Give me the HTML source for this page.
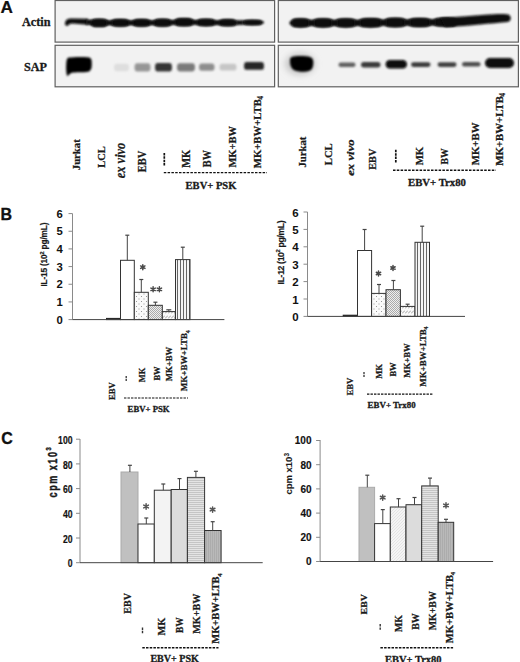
<!DOCTYPE html>
<html><head><meta charset="utf-8"><style>
html,body{margin:0;padding:0;background:#fff;}
body{width:520px;height:662px;overflow:hidden;font-family:"Liberation Sans",sans-serif;}
svg{display:block;}
</style></head><body>
<svg width="520" height="662" viewBox="0 0 520 662">
<defs>
<filter id="bl7" x="-30%" y="-60%" width="160%" height="220%"><feGaussianBlur stdDeviation="0.7"/></filter>
<filter id="bl11" x="-30%" y="-60%" width="160%" height="220%"><feGaussianBlur stdDeviation="1.1"/></filter>
<filter id="bl30" x="-50%" y="-50%" width="200%" height="200%"><feGaussianBlur stdDeviation="3"/></filter>
<filter id="bl8" x="-30%" y="-60%" width="160%" height="220%"><feGaussianBlur stdDeviation="0.8"/></filter>
<filter id="bl9" x="-30%" y="-60%" width="160%" height="220%"><feGaussianBlur stdDeviation="0.9"/></filter>
<filter id="bl10" x="-30%" y="-60%" width="160%" height="220%"><feGaussianBlur stdDeviation="1.0"/></filter>
<pattern id="dots" width="5" height="5" patternUnits="userSpaceOnUse"><rect width="5" height="5" fill="#fbfbfb"/><rect x="1" y="1" width="1" height="1" fill="#999"/><rect x="3.5" y="3.5" width="1" height="1" fill="#999"/></pattern>
<pattern id="dense" width="2" height="2" patternUnits="userSpaceOnUse"><rect width="2" height="2" fill="#eeeeee"/><rect x="0" y="0" width="1" height="1" fill="#aaa"/><rect x="1" y="1" width="1" height="1" fill="#aaa"/></pattern>
<pattern id="diag" width="3" height="5" patternUnits="userSpaceOnUse"><rect width="3" height="5" fill="#fafafa"/><path d="M0,3.5 L3,0.5" stroke="#888" stroke-width="0.8"/></pattern>
<pattern id="vlines" width="3" height="3" patternUnits="userSpaceOnUse"><rect width="3" height="3" fill="#f4f4f4"/><rect x="0" y="0" width="0.9" height="3" fill="#555"/></pattern>
<pattern id="hlines" width="2" height="2" patternUnits="userSpaceOnUse"><rect width="2" height="2" fill="#e4e4e4"/><rect x="0" y="0" width="2" height="0.7" fill="#b8b8b8"/></pattern>
<pattern id="gvl" width="2" height="2" patternUnits="userSpaceOnUse"><rect width="2" height="2" fill="#b9b9b9"/><rect x="0" y="0" width="0.7" height="2" fill="#a6a6a6"/></pattern>
<pattern id="ldiag" width="3" height="3" patternUnits="userSpaceOnUse"><rect width="3" height="3" fill="#f4f4f4"/><path d="M0,3 L3,0" stroke="#d8d8d8" stroke-width="0.6"/></pattern>
</defs>
<text x="0.4" y="13.4" font-family="'Liberation Sans', sans-serif" font-size="17.2" font-weight="bold" fill="#111" text-anchor="start" stroke="#111" stroke-width="0.2">A</text>
<text x="22" y="25.5" font-family="'Liberation Serif', serif" font-size="12.5" font-weight="bold" fill="#1a1a1a" text-anchor="start" stroke="#1a1a1a" stroke-width="0.3" textLength="28.5" lengthAdjust="spacingAndGlyphs">Actin</text>
<text x="24" y="71.4" font-family="'Liberation Serif', serif" font-size="12.5" font-weight="bold" fill="#1a1a1a" text-anchor="start" stroke="#1a1a1a" stroke-width="0.3" textLength="23" lengthAdjust="spacingAndGlyphs">SAP</text>
<rect x="55.1" y="0.5" width="219.50000000000003" height="41.6" fill="#f2f2f2" stroke="#606060" stroke-width="1.2"/>
<rect x="55.1" y="45.3" width="219.50000000000003" height="41.5" fill="#f2f2f2" stroke="#606060" stroke-width="1.2"/>
<rect x="278.3" y="0.5" width="240.09999999999997" height="41.6" fill="#f2f2f2" stroke="#606060" stroke-width="1.2"/>
<rect x="278.3" y="45.3" width="240.09999999999997" height="41.5" fill="#f2f2f2" stroke="#606060" stroke-width="1.2"/>
<path d="M65,25 C64.8,21 66.5,18.8 70.5,18.6 L88,18.8 L88,24.8 L72,23.4 C70,23.4 68.5,24.6 67.8,26 Z" fill="#0b0b0b" filter="url(#bl8)"/>
<ellipse cx="99.25" cy="22.799999999999997" rx="10.45" ry="3.9999999999999996" fill="#0b0b0b" filter="url(#bl8)"/>
<rect x="91.5" y="19.2" width="15.5" height="7.199999999999999" rx="3" fill="#0b0b0b" filter="url(#bl8)"/>
<ellipse cx="120.25" cy="22.799999999999997" rx="10.95" ry="3.8000000000000003" fill="#0b0b0b" filter="url(#bl8)"/>
<rect x="112.0" y="19.4" width="16.5" height="6.800000000000001" rx="3" fill="#0b0b0b" filter="url(#bl8)"/>
<ellipse cx="141.5" cy="22.799999999999997" rx="10.7" ry="3.8000000000000003" fill="#0b0b0b" filter="url(#bl8)"/>
<rect x="133.5" y="19.4" width="16" height="6.800000000000001" rx="3" fill="#0b0b0b" filter="url(#bl8)"/>
<ellipse cx="162.5" cy="22.7" rx="10.7" ry="3.9" fill="#0b0b0b" filter="url(#bl8)"/>
<rect x="154.5" y="19.2" width="16" height="7.0" rx="3" fill="#0b0b0b" filter="url(#bl8)"/>
<ellipse cx="184.0" cy="22.200000000000003" rx="11.2" ry="3.9999999999999996" fill="#0b0b0b" filter="url(#bl8)"/>
<rect x="175.5" y="18.6" width="17" height="7.199999999999999" rx="3" fill="#0b0b0b" filter="url(#bl8)"/>
<ellipse cx="206.0" cy="22.5" rx="11.2" ry="3.7000000000000006" fill="#0b0b0b" filter="url(#bl8)"/>
<rect x="197.5" y="19.2" width="17" height="6.600000000000001" rx="3" fill="#0b0b0b" filter="url(#bl8)"/>
<ellipse cx="227.75" cy="22.700000000000003" rx="10.95" ry="3.4999999999999996" fill="#0b0b0b" filter="url(#bl8)"/>
<rect x="219.5" y="19.6" width="16.5" height="6.199999999999999" rx="3" fill="#0b0b0b" filter="url(#bl8)"/>
<ellipse cx="252.5" cy="22.5" rx="11.7" ry="2.7000000000000006" fill="#0b0b0b" filter="url(#bl8)"/>
<rect x="243.5" y="20.2" width="18" height="4.600000000000001" rx="3" fill="#0b0b0b" filter="url(#bl8)"/>
<rect x="106.0" y="20.499999999999996" width="7" height="4.6" fill="#0b0b0b" filter="url(#bl8)"/>
<rect x="127.5" y="20.499999999999996" width="7" height="4.6" fill="#0b0b0b" filter="url(#bl8)"/>
<rect x="148.5" y="20.45" width="7" height="4.6" fill="#0b0b0b" filter="url(#bl8)"/>
<rect x="169.5" y="20.150000000000002" width="7" height="4.6" fill="#0b0b0b" filter="url(#bl8)"/>
<rect x="191.5" y="20.05" width="7" height="4.6" fill="#0b0b0b" filter="url(#bl8)"/>
<rect x="213.5" y="20.3" width="7" height="4.6" fill="#0b0b0b" filter="url(#bl8)"/>
<rect x="236.25" y="20.3" width="7" height="4.6" fill="#0b0b0b" filter="url(#bl8)"/>
<rect x="86" y="19.8" width="6" height="4.8" fill="#0b0b0b" filter="url(#bl8)"/>
<ellipse cx="300.5" cy="22.9" rx="11.2" ry="4.5" fill="#0b0b0b" filter="url(#bl8)"/>
<rect x="292.0" y="18.8" width="17.0" height="8.2" rx="3" fill="#0b0b0b" filter="url(#bl8)"/>
<ellipse cx="323.0" cy="22.9" rx="11.7" ry="4.5" fill="#0b0b0b" filter="url(#bl8)"/>
<rect x="314.0" y="18.8" width="18.0" height="8.2" rx="3" fill="#0b0b0b" filter="url(#bl8)"/>
<ellipse cx="345.75" cy="22.9" rx="11.95" ry="4.5" fill="#0b0b0b" filter="url(#bl8)"/>
<rect x="336.5" y="18.8" width="18.5" height="8.2" rx="3" fill="#0b0b0b" filter="url(#bl8)"/>
<ellipse cx="370.5" cy="22.8" rx="13.2" ry="4.6" fill="#0b0b0b" filter="url(#bl8)"/>
<rect x="360.0" y="18.6" width="21.0" height="8.399999999999999" rx="3" fill="#0b0b0b" filter="url(#bl8)"/>
<ellipse cx="395.25" cy="22.5" rx="12.45" ry="4.700000000000001" fill="#0b0b0b" filter="url(#bl8)"/>
<rect x="385.5" y="18.2" width="19.5" height="8.600000000000001" rx="3" fill="#0b0b0b" filter="url(#bl8)"/>
<ellipse cx="419.75" cy="22.5" rx="12.95" ry="4.500000000000002" fill="#0b0b0b" filter="url(#bl8)"/>
<rect x="409.5" y="18.4" width="20.5" height="8.200000000000003" rx="3" fill="#0b0b0b" filter="url(#bl8)"/>
<ellipse cx="445.25" cy="22.2" rx="13.45" ry="4.4" fill="#0b0b0b" filter="url(#bl8)"/>
<rect x="434.5" y="18.2" width="21.5" height="8.0" rx="3" fill="#0b0b0b" filter="url(#bl8)"/>
<rect x="308.0" y="19.799999999999997" width="7" height="6.2" fill="#0b0b0b" filter="url(#bl8)"/>
<rect x="330.75" y="19.799999999999997" width="7" height="6.2" fill="#0b0b0b" filter="url(#bl8)"/>
<rect x="354.0" y="19.75" width="7" height="6.2" fill="#0b0b0b" filter="url(#bl8)"/>
<rect x="379.75" y="19.549999999999997" width="7" height="6.2" fill="#0b0b0b" filter="url(#bl8)"/>
<rect x="403.75" y="19.4" width="7" height="6.2" fill="#0b0b0b" filter="url(#bl8)"/>
<rect x="428.75" y="19.25" width="7" height="6.2" fill="#0b0b0b" filter="url(#bl8)"/>
<path d="M440,18 C455,17.2 470,16 485,14.7 C495,13.9 503,13.7 507.5,14.3 C511.8,15.2 511.8,21.2 507.5,22 C500,22.8 490,23.5 480,24.6 C470,25.6 458,26.6 445,26.9 Z" fill="#0b0b0b" filter="url(#bl8)"/>
<path d="M68.5,57.6 C72,56.8 84,56.7 88,57.2 C91,57.8 91.6,59 91.7,62 C91.8,66 92,69 89.5,71.2 C86,72.6 78,72 73,72.6 C70,73 68.6,75.4 67.4,76.2 C66.2,74 65.9,68 66.3,63 C66.5,60 67,58.2 68.5,57.6 Z" fill="#040404" filter="url(#bl8)"/>
<rect x="114" y="63.8" width="15" height="7.400000000000006" rx="2.5" ry="3.700000000000003" fill="#dedede" filter="url(#bl11)"/>
<rect x="134.5" y="63.3" width="16.0" height="8.200000000000003" rx="2.5" ry="4.100000000000001" fill="#969696" filter="url(#bl11)"/>
<rect x="155" y="63" width="17" height="8.599999999999994" rx="2.5" ry="4.299999999999997" fill="#363636" filter="url(#bl11)"/>
<rect x="177" y="63.2" width="18" height="8.200000000000003" rx="2.5" ry="4.100000000000001" fill="#7a7a7a" filter="url(#bl11)"/>
<rect x="199" y="63.6" width="15.5" height="7.199999999999996" rx="2.5" ry="3.599999999999998" fill="#8e8e8e" filter="url(#bl11)"/>
<rect x="219.5" y="63.8" width="17.0" height="6.799999999999997" rx="2.5" ry="3.3999999999999986" fill="#c6c6c6" filter="url(#bl11)"/>
<rect x="244" y="62" width="20" height="7.799999999999997" rx="2.5" ry="3.8999999999999986" fill="#262626" filter="url(#bl11)"/>
<ellipse cx="300" cy="64" rx="15" ry="11" fill="#c8c8c8" filter="url(#bl30)"/>
<path d="M290,60 C290,56.8 293,56 300,56 C309,56 313.3,56.8 313.3,62 C313.3,68 312,71.8 304,71.8 C295,71.8 289.6,70 290,60 Z" fill="#040404" filter="url(#bl8)"/>
<rect x="338.5" y="62.6" width="17.0" height="4.399999999999999" rx="2.1999999999999993" ry="2.1999999999999993" fill="#606060" filter="url(#bl10)"/>
<rect x="361" y="62" width="19.5" height="5.400000000000006" rx="2.700000000000003" ry="2.700000000000003" fill="#3a3a3a" filter="url(#bl10)"/>
<rect x="385.6" y="60" width="21.399999999999977" height="8.5" rx="4.25" ry="4.25" fill="#070707" filter="url(#bl10)"/>
<rect x="411" y="62.2" width="19.5" height="4.799999999999997" rx="2.3999999999999986" ry="2.3999999999999986" fill="#3a3a3a" filter="url(#bl10)"/>
<rect x="437.6" y="62.2" width="18.899999999999977" height="4.799999999999997" rx="2.3999999999999986" ry="2.3999999999999986" fill="#404040" filter="url(#bl10)"/>
<rect x="462" y="62" width="18.5" height="4.599999999999994" rx="2.299999999999997" ry="2.299999999999997" fill="#4e4e4e" filter="url(#bl10)"/>
<rect x="485" y="58" width="29" height="10" rx="5.0" ry="5.0" fill="#070707" filter="url(#bl10)"/>
<text x="185.6" y="188.6" font-family="'Liberation Serif', serif" font-size="10.8" font-weight="bold" fill="#1a1a1a" text-anchor="start" stroke="#1a1a1a" stroke-width="0.3" textLength="50.8" lengthAdjust="spacingAndGlyphs">EBV+ PSK</text>
<text x="408" y="186" font-family="'Liberation Serif', serif" font-size="10.8" font-weight="bold" fill="#1a1a1a" text-anchor="start" stroke="#1a1a1a" stroke-width="0.3" textLength="58" lengthAdjust="spacingAndGlyphs">EBV+ Trx80</text>
<line x1="163.8" y1="172.6" x2="267" y2="172.6" stroke="#111" stroke-width="1.4" stroke-dasharray="2.5,1.3"/>
<line x1="393" y1="170.2" x2="496" y2="170.2" stroke="#111" stroke-width="1.4" stroke-dasharray="2.5,1.3"/>
<line x1="164.3" y1="153" x2="164.3" y2="166.1" stroke="#111" stroke-width="1.7" stroke-dasharray="2.5,0.87"/>
<line x1="395.8" y1="149.8" x2="395.8" y2="163.1" stroke="#111" stroke-width="1.7" stroke-dasharray="2.5,0.87"/>
<text x="0.5" y="220.2" font-family="'Liberation Sans', sans-serif" font-size="16" font-weight="bold" fill="#111" text-anchor="start" stroke="#111" stroke-width="0.3">B</text>
<line x1="72.5" y1="213.6" x2="72.5" y2="319.6" stroke="#8a8a8a" stroke-width="1"/>
<line x1="68.5" y1="319.6" x2="72.5" y2="319.6" stroke="#8a8a8a" stroke-width="1"/>
<line x1="68.5" y1="301.93" x2="72.5" y2="301.93" stroke="#8a8a8a" stroke-width="1"/>
<line x1="68.5" y1="284.26" x2="72.5" y2="284.26" stroke="#8a8a8a" stroke-width="1"/>
<line x1="68.5" y1="266.59000000000003" x2="72.5" y2="266.59000000000003" stroke="#8a8a8a" stroke-width="1"/>
<line x1="68.5" y1="248.92000000000002" x2="72.5" y2="248.92000000000002" stroke="#8a8a8a" stroke-width="1"/>
<line x1="68.5" y1="231.25" x2="72.5" y2="231.25" stroke="#8a8a8a" stroke-width="1"/>
<line x1="68.5" y1="213.58" x2="72.5" y2="213.58" stroke="#8a8a8a" stroke-width="1"/>
<text x="62.8" y="323.8" font-family="'Liberation Sans', sans-serif" font-size="11.3" font-weight="bold" fill="#111" text-anchor="end">0</text>
<text x="62.8" y="306.13" font-family="'Liberation Sans', sans-serif" font-size="11.3" font-weight="bold" fill="#111" text-anchor="end">1</text>
<text x="62.8" y="288.46" font-family="'Liberation Sans', sans-serif" font-size="11.3" font-weight="bold" fill="#111" text-anchor="end">2</text>
<text x="62.8" y="270.79" font-family="'Liberation Sans', sans-serif" font-size="11.3" font-weight="bold" fill="#111" text-anchor="end">3</text>
<text x="62.8" y="253.12" font-family="'Liberation Sans', sans-serif" font-size="11.3" font-weight="bold" fill="#111" text-anchor="end">4</text>
<text x="62.8" y="235.45" font-family="'Liberation Sans', sans-serif" font-size="11.3" font-weight="bold" fill="#111" text-anchor="end">5</text>
<text x="62.8" y="217.78" font-family="'Liberation Sans', sans-serif" font-size="11.3" font-weight="bold" fill="#111" text-anchor="end">6</text>
<text transform="translate(47.4,286.6) rotate(-90)" font-family="'Liberation Sans', sans-serif" font-size="8.3" font-weight="bold" fill="#1a1a1a" stroke="#1a1a1a" stroke-width="0.2" textLength="64" lengthAdjust="spacing">IL-15 (10<tspan font-size="5.64" dy="-3.15">2</tspan><tspan dy="3.15"> pg/mL)</tspan></text>
<rect x="106.5" y="318.4" width="13.799999999999997" height="1.2000000000000455" fill="#222" stroke="#222" stroke-width="1"/>
<rect x="120.5" y="260.3" width="13.800000000000011" height="59.30000000000001" fill="#fff" stroke="#333" stroke-width="1"/>
<line x1="127.3" y1="235.2" x2="127.3" y2="260.3" stroke="#444" stroke-width="1"/>
<line x1="125.3" y1="235.2" x2="129.3" y2="235.2" stroke="#444" stroke-width="1.2"/>
<rect x="134.3" y="292.3" width="14.0" height="27.30000000000001" fill="url(#dots)" stroke="#333" stroke-width="1"/>
<line x1="141.3" y1="279.5" x2="141.3" y2="292.3" stroke="#444" stroke-width="1"/>
<line x1="139.3" y1="279.5" x2="143.3" y2="279.5" stroke="#444" stroke-width="1.2"/>
<rect x="148.3" y="305.3" width="14.0" height="14.300000000000011" fill="url(#dense)" stroke="#333" stroke-width="1"/>
<line x1="155.4" y1="302.2" x2="155.4" y2="305.3" stroke="#444" stroke-width="1"/>
<line x1="153.4" y1="302.2" x2="157.4" y2="302.2" stroke="#444" stroke-width="1.2"/>
<rect x="162.3" y="311.6" width="13.0" height="8.0" fill="url(#diag)" stroke="#333" stroke-width="1"/>
<line x1="168.8" y1="309.8" x2="168.8" y2="311.6" stroke="#444" stroke-width="1"/>
<line x1="166.3" y1="309.8" x2="171.3" y2="309.8" stroke="#444" stroke-width="1.2"/>
<rect x="175.5" y="259.6" width="14.5" height="60.0" fill="url(#vlines)" stroke="#333" stroke-width="1"/>
<line x1="182.8" y1="247.2" x2="182.8" y2="259.6" stroke="#444" stroke-width="1"/>
<line x1="180.8" y1="247.2" x2="184.8" y2="247.2" stroke="#444" stroke-width="1.2"/>
<line x1="72.5" y1="319.6" x2="224.4" y2="319.6" stroke="#444" stroke-width="1"/>
<path d="M142.80,264.70L142.80,269.70M140.63,265.95L144.97,268.45M144.97,265.95L140.63,268.45" stroke="#4a4a4a" stroke-width="1.5" fill="none" stroke-linecap="round"/>
<path d="M153.10,286.80L153.10,291.80M150.93,288.05L155.27,290.55M155.27,288.05L150.93,290.55" stroke="#4a4a4a" stroke-width="1.5" fill="none" stroke-linecap="round"/>
<path d="M159.40,286.80L159.40,291.80M157.23,288.05L161.57,290.55M161.57,288.05L157.23,290.55" stroke="#4a4a4a" stroke-width="1.5" fill="none" stroke-linecap="round"/>
<line x1="307.5" y1="212" x2="307.5" y2="316.4" stroke="#8a8a8a" stroke-width="1"/>
<line x1="303.5" y1="316.4" x2="307.5" y2="316.4" stroke="#8a8a8a" stroke-width="1"/>
<line x1="303.5" y1="299.0" x2="307.5" y2="299.0" stroke="#8a8a8a" stroke-width="1"/>
<line x1="303.5" y1="281.59999999999997" x2="307.5" y2="281.59999999999997" stroke="#8a8a8a" stroke-width="1"/>
<line x1="303.5" y1="264.2" x2="307.5" y2="264.2" stroke="#8a8a8a" stroke-width="1"/>
<line x1="303.5" y1="246.79999999999998" x2="307.5" y2="246.79999999999998" stroke="#8a8a8a" stroke-width="1"/>
<line x1="303.5" y1="229.39999999999998" x2="307.5" y2="229.39999999999998" stroke="#8a8a8a" stroke-width="1"/>
<line x1="303.5" y1="212.0" x2="307.5" y2="212.0" stroke="#8a8a8a" stroke-width="1"/>
<text x="298.6" y="321.0" font-family="'Liberation Sans', sans-serif" font-size="11.5" font-weight="bold" fill="#111" text-anchor="end">0</text>
<text x="298.6" y="303.6" font-family="'Liberation Sans', sans-serif" font-size="11.5" font-weight="bold" fill="#111" text-anchor="end">1</text>
<text x="298.6" y="286.2" font-family="'Liberation Sans', sans-serif" font-size="11.5" font-weight="bold" fill="#111" text-anchor="end">2</text>
<text x="298.6" y="268.8" font-family="'Liberation Sans', sans-serif" font-size="11.5" font-weight="bold" fill="#111" text-anchor="end">3</text>
<text x="298.6" y="251.39999999999998" font-family="'Liberation Sans', sans-serif" font-size="11.5" font-weight="bold" fill="#111" text-anchor="end">4</text>
<text x="298.6" y="233.99999999999997" font-family="'Liberation Sans', sans-serif" font-size="11.5" font-weight="bold" fill="#111" text-anchor="end">5</text>
<text x="298.6" y="216.6" font-family="'Liberation Sans', sans-serif" font-size="11.5" font-weight="bold" fill="#111" text-anchor="end">6</text>
<text transform="translate(283.6,284.4) rotate(-90)" font-family="'Liberation Sans', sans-serif" font-size="8.6" font-weight="bold" fill="#1a1a1a" stroke="#1a1a1a" stroke-width="0.2" textLength="64" lengthAdjust="spacing">IL-12 (10<tspan font-size="5.85" dy="-3.27">2</tspan><tspan dy="3.27"> pg/mL)</tspan></text>
<rect x="343.2" y="315.2" width="14.199999999999989" height="1.1999999999999886" fill="#222" stroke="#222" stroke-width="1"/>
<rect x="357.5" y="250.5" width="14.100000000000023" height="65.89999999999998" fill="#fff" stroke="#333" stroke-width="1"/>
<line x1="364.6" y1="229.5" x2="364.6" y2="250.5" stroke="#444" stroke-width="1"/>
<line x1="362.6" y1="229.5" x2="366.6" y2="229.5" stroke="#444" stroke-width="1.2"/>
<rect x="371.6" y="293.4" width="14.399999999999977" height="23.0" fill="url(#dots)" stroke="#333" stroke-width="1"/>
<line x1="379" y1="284.5" x2="379" y2="293.4" stroke="#444" stroke-width="1"/>
<line x1="377.0" y1="284.5" x2="381.0" y2="284.5" stroke="#444" stroke-width="1.2"/>
<rect x="386" y="289.7" width="14.399999999999977" height="26.69999999999999" fill="url(#dense)" stroke="#333" stroke-width="1"/>
<line x1="393.4" y1="280.5" x2="393.4" y2="289.7" stroke="#444" stroke-width="1"/>
<line x1="391.4" y1="280.5" x2="395.4" y2="280.5" stroke="#444" stroke-width="1.2"/>
<rect x="400.4" y="306.4" width="14.600000000000023" height="10.0" fill="url(#diag)" stroke="#333" stroke-width="1"/>
<line x1="407.6" y1="304.2" x2="407.6" y2="306.4" stroke="#444" stroke-width="1"/>
<line x1="405.6" y1="304.2" x2="409.6" y2="304.2" stroke="#444" stroke-width="1.2"/>
<rect x="415" y="242.3" width="14.5" height="74.09999999999997" fill="url(#vlines)" stroke="#333" stroke-width="1"/>
<line x1="422.2" y1="226.2" x2="422.2" y2="242.3" stroke="#444" stroke-width="1"/>
<line x1="420.2" y1="226.2" x2="424.2" y2="226.2" stroke="#444" stroke-width="1.2"/>
<line x1="307.5" y1="316.4" x2="465" y2="316.4" stroke="#444" stroke-width="1"/>
<path d="M378.50,271.00L378.50,276.00M376.33,272.25L380.67,274.75M380.67,272.25L376.33,274.75" stroke="#4a4a4a" stroke-width="1.5" fill="none" stroke-linecap="round"/>
<path d="M393.00,265.50L393.00,270.50M390.83,266.75L395.17,269.25M395.17,266.75L390.83,269.25" stroke="#4a4a4a" stroke-width="1.5" fill="none" stroke-linecap="round"/>
<line x1="126.2" y1="375.9" x2="126.2" y2="380.9" stroke="#333" stroke-width="1.3" stroke-dasharray="2.2,0.7"/>
<line x1="124" y1="398" x2="188" y2="398" stroke="#111" stroke-width="1.2" stroke-dasharray="2.4,1.1"/>
<text x="127.6" y="411.6" font-family="'Liberation Serif', serif" font-size="9" font-weight="bold" fill="#1a1a1a" text-anchor="start" stroke="#1a1a1a" stroke-width="0.3" textLength="42" lengthAdjust="spacingAndGlyphs">EBV+ PSK</text>
<line x1="364" y1="371.9" x2="364" y2="377.6" stroke="#333" stroke-width="1.3" stroke-dasharray="2.2,0.7"/>
<line x1="367" y1="394.2" x2="433" y2="394.2" stroke="#111" stroke-width="1.2" stroke-dasharray="2.4,1.1"/>
<text x="367.6" y="408.2" font-family="'Liberation Serif', serif" font-size="9" font-weight="bold" fill="#1a1a1a" text-anchor="start" stroke="#1a1a1a" stroke-width="0.3" textLength="48" lengthAdjust="spacingAndGlyphs">EBV+ Trx80</text>
<text x="1.2" y="444.3" font-family="'Liberation Sans', sans-serif" font-size="16" font-weight="bold" fill="#111" text-anchor="start" stroke="#111" stroke-width="0.3">C</text>
<line x1="80" y1="439" x2="80" y2="562.7" stroke="#8a8a8a" stroke-width="1"/>
<line x1="76" y1="562.7" x2="80" y2="562.7" stroke="#8a8a8a" stroke-width="1"/>
<line x1="76" y1="538.0" x2="80" y2="538.0" stroke="#8a8a8a" stroke-width="1"/>
<line x1="76" y1="513.3000000000001" x2="80" y2="513.3000000000001" stroke="#8a8a8a" stroke-width="1"/>
<line x1="76" y1="488.6" x2="80" y2="488.6" stroke="#8a8a8a" stroke-width="1"/>
<line x1="76" y1="463.90000000000003" x2="80" y2="463.90000000000003" stroke="#8a8a8a" stroke-width="1"/>
<line x1="76" y1="439.20000000000005" x2="80" y2="439.20000000000005" stroke="#8a8a8a" stroke-width="1"/>
<text x="72.5" y="567.3000000000001" font-family="'Liberation Sans', sans-serif" font-size="11.5" font-weight="bold" fill="#111" text-anchor="end" stroke="#111" stroke-width="0.2" textLength="4.8" lengthAdjust="spacingAndGlyphs">0</text>
<text x="72.5" y="542.6" font-family="'Liberation Sans', sans-serif" font-size="11.5" font-weight="bold" fill="#111" text-anchor="end" stroke="#111" stroke-width="0.2" textLength="9.6" lengthAdjust="spacingAndGlyphs">20</text>
<text x="72.5" y="517.9000000000001" font-family="'Liberation Sans', sans-serif" font-size="11.5" font-weight="bold" fill="#111" text-anchor="end" stroke="#111" stroke-width="0.2" textLength="9.6" lengthAdjust="spacingAndGlyphs">40</text>
<text x="72.5" y="493.20000000000005" font-family="'Liberation Sans', sans-serif" font-size="11.5" font-weight="bold" fill="#111" text-anchor="end" stroke="#111" stroke-width="0.2" textLength="9.6" lengthAdjust="spacingAndGlyphs">60</text>
<text x="72.5" y="468.50000000000006" font-family="'Liberation Sans', sans-serif" font-size="11.5" font-weight="bold" fill="#111" text-anchor="end" stroke="#111" stroke-width="0.2" textLength="9.6" lengthAdjust="spacingAndGlyphs">80</text>
<text x="72.5" y="443.80000000000007" font-family="'Liberation Sans', sans-serif" font-size="11.5" font-weight="bold" fill="#111" text-anchor="end" stroke="#111" stroke-width="0.2" textLength="14.4" lengthAdjust="spacingAndGlyphs">100</text>
<text transform="translate(56.5,497.4) rotate(-90) scale(0.72,1)" font-family="Liberation Sans, sans-serif" font-size="12.6" font-weight="bold" letter-spacing="2.1" fill="#1a1a1a" stroke="#1a1a1a" stroke-width="0.45">cpm x10<tspan font-size="8" dy="-5.5">3</tspan></text>
<rect x="121" y="472" width="17" height="90.70000000000005" fill="#c0c0c0" stroke="#aaa" stroke-width="1"/>
<line x1="129.9" y1="465.3" x2="129.9" y2="472" stroke="#444" stroke-width="1"/>
<line x1="127.9" y1="465.3" x2="131.9" y2="465.3" stroke="#444" stroke-width="1.2"/>
<rect x="138" y="524" width="16.30000000000001" height="38.700000000000045" fill="#fff" stroke="#333" stroke-width="1"/>
<line x1="146.3" y1="518" x2="146.3" y2="524" stroke="#444" stroke-width="1"/>
<line x1="144.3" y1="518" x2="148.3" y2="518" stroke="#444" stroke-width="1.2"/>
<rect x="154.3" y="490.2" width="16.899999999999977" height="72.50000000000006" fill="#f3f3f3" stroke="#333" stroke-width="1"/>
<line x1="163.3" y1="484" x2="163.3" y2="490.2" stroke="#444" stroke-width="1"/>
<line x1="161.3" y1="484" x2="165.3" y2="484" stroke="#444" stroke-width="1.2"/>
<rect x="171.2" y="489.5" width="16.200000000000017" height="73.20000000000005" fill="#dcdcdc" stroke="#333" stroke-width="1"/>
<line x1="179.5" y1="478.6" x2="179.5" y2="489.5" stroke="#444" stroke-width="1"/>
<line x1="177.5" y1="478.6" x2="181.5" y2="478.6" stroke="#444" stroke-width="1.2"/>
<rect x="187.4" y="477.4" width="17.19999999999999" height="85.30000000000007" fill="url(#hlines)" stroke="#333" stroke-width="1"/>
<line x1="195.9" y1="471.3" x2="195.9" y2="477.4" stroke="#444" stroke-width="1"/>
<line x1="193.9" y1="471.3" x2="197.9" y2="471.3" stroke="#444" stroke-width="1.2"/>
<rect x="204.6" y="530.5" width="16.5" height="32.200000000000045" fill="url(#gvl)" stroke="#333" stroke-width="1"/>
<line x1="212.7" y1="521.7" x2="212.7" y2="530.5" stroke="#444" stroke-width="1"/>
<line x1="210.7" y1="521.7" x2="214.7" y2="521.7" stroke="#444" stroke-width="1.2"/>
<line x1="80" y1="562.7" x2="262.7" y2="562.7" stroke="#444" stroke-width="1"/>
<path d="M146.10,503.80L146.10,509.20M143.76,505.15L148.44,507.85M148.44,505.15L143.76,507.85" stroke="#555" stroke-width="1.5" fill="none" stroke-linecap="round"/>
<path d="M212.60,506.90L212.60,512.30M210.26,508.25L214.94,510.95M214.94,508.25L210.26,510.95" stroke="#555" stroke-width="1.5" fill="none" stroke-linecap="round"/>
<line x1="320.1" y1="440" x2="320.1" y2="561.5" stroke="#8a8a8a" stroke-width="1"/>
<line x1="316.1" y1="561.5" x2="320.1" y2="561.5" stroke="#8a8a8a" stroke-width="1"/>
<line x1="316.1" y1="537.3" x2="320.1" y2="537.3" stroke="#8a8a8a" stroke-width="1"/>
<line x1="316.1" y1="513.1" x2="320.1" y2="513.1" stroke="#8a8a8a" stroke-width="1"/>
<line x1="316.1" y1="488.9" x2="320.1" y2="488.9" stroke="#8a8a8a" stroke-width="1"/>
<line x1="316.1" y1="464.7" x2="320.1" y2="464.7" stroke="#8a8a8a" stroke-width="1"/>
<line x1="316.1" y1="440.5" x2="320.1" y2="440.5" stroke="#8a8a8a" stroke-width="1"/>
<text x="311.5" y="565.4" font-family="'Liberation Sans', sans-serif" font-size="10" font-weight="bold" fill="#111" text-anchor="end" stroke="#111" stroke-width="0.15">0</text>
<text x="311.5" y="541.1999999999999" font-family="'Liberation Sans', sans-serif" font-size="10" font-weight="bold" fill="#111" text-anchor="end" stroke="#111" stroke-width="0.15">20</text>
<text x="311.5" y="517.0" font-family="'Liberation Sans', sans-serif" font-size="10" font-weight="bold" fill="#111" text-anchor="end" stroke="#111" stroke-width="0.15">40</text>
<text x="311.5" y="492.79999999999995" font-family="'Liberation Sans', sans-serif" font-size="10" font-weight="bold" fill="#111" text-anchor="end" stroke="#111" stroke-width="0.15">60</text>
<text x="311.5" y="468.59999999999997" font-family="'Liberation Sans', sans-serif" font-size="10" font-weight="bold" fill="#111" text-anchor="end" stroke="#111" stroke-width="0.15">80</text>
<text x="311.5" y="444.4" font-family="'Liberation Sans', sans-serif" font-size="10" font-weight="bold" fill="#111" text-anchor="end" stroke="#111" stroke-width="0.15">100</text>
<text transform="translate(292.3,494.6) rotate(-90)" font-family="'Liberation Sans', sans-serif" font-size="9.8" font-weight="bold" fill="#1a1a1a" stroke="#1a1a1a" stroke-width="0.1" textLength="41.6" lengthAdjust="spacingAndGlyphs">cpm x10<tspan font-size="6.66" dy="-3.72">3</tspan><tspan dy="3.72"></tspan></text>
<rect x="359" y="487.3" width="15.600000000000023" height="74.19999999999999" fill="#c0c0c0" stroke="#aaa" stroke-width="1"/>
<line x1="367.3" y1="475.2" x2="367.3" y2="487.3" stroke="#444" stroke-width="1"/>
<line x1="365.3" y1="475.2" x2="369.3" y2="475.2" stroke="#444" stroke-width="1.2"/>
<rect x="374.6" y="523.6" width="15.699999999999989" height="37.89999999999998" fill="#fff" stroke="#333" stroke-width="1"/>
<line x1="382.8" y1="509.6" x2="382.8" y2="523.6" stroke="#444" stroke-width="1"/>
<line x1="380.8" y1="509.6" x2="384.8" y2="509.6" stroke="#444" stroke-width="1.2"/>
<rect x="390.3" y="507" width="15.699999999999989" height="54.5" fill="url(#ldiag)" stroke="#333" stroke-width="1"/>
<line x1="398.5" y1="498.7" x2="398.5" y2="507" stroke="#444" stroke-width="1"/>
<line x1="396.5" y1="498.7" x2="400.5" y2="498.7" stroke="#444" stroke-width="1.2"/>
<rect x="406" y="504.7" width="15.699999999999989" height="56.80000000000001" fill="#dcdcdc" stroke="#333" stroke-width="1"/>
<line x1="414.5" y1="497.5" x2="414.5" y2="504.7" stroke="#444" stroke-width="1"/>
<line x1="412.5" y1="497.5" x2="416.5" y2="497.5" stroke="#444" stroke-width="1.2"/>
<rect x="421.7" y="485.9" width="16.5" height="75.60000000000002" fill="url(#hlines)" stroke="#333" stroke-width="1"/>
<line x1="430" y1="478.1" x2="430" y2="485.9" stroke="#444" stroke-width="1"/>
<line x1="428.0" y1="478.1" x2="432.0" y2="478.1" stroke="#444" stroke-width="1.2"/>
<rect x="438.2" y="522.3" width="15.5" height="39.200000000000045" fill="url(#gvl)" stroke="#333" stroke-width="1"/>
<line x1="446" y1="519.3" x2="446" y2="522.3" stroke="#444" stroke-width="1"/>
<line x1="444.0" y1="519.3" x2="448.0" y2="519.3" stroke="#444" stroke-width="1.2"/>
<line x1="320.1" y1="561.5" x2="493.1" y2="561.5" stroke="#444" stroke-width="1"/>
<path d="M382.70,494.90L382.70,500.30M380.36,496.25L385.04,498.95M385.04,496.25L380.36,498.95" stroke="#555" stroke-width="1.5" fill="none" stroke-linecap="round"/>
<path d="M446.00,502.70L446.00,508.10M443.66,504.05L448.34,506.75M448.34,504.05L443.66,506.75" stroke="#555" stroke-width="1.5" fill="none" stroke-linecap="round"/>
<line x1="142.5" y1="627.5" x2="142.5" y2="633.8" stroke="#333" stroke-width="1.4" stroke-dasharray="2.4,0.9"/>
<line x1="142.3" y1="647.8" x2="218.5" y2="647.8" stroke="#111" stroke-width="1.4" stroke-dasharray="2.5,1.2"/>
<text x="150.4" y="661.5" font-family="'Liberation Serif', serif" font-size="10.5" font-weight="bold" fill="#1a1a1a" text-anchor="start" stroke="#1a1a1a" stroke-width="0.3" textLength="48.5" lengthAdjust="spacingAndGlyphs">EBV+ PSK</text>
<line x1="380.2" y1="624.1" x2="380.2" y2="629.8" stroke="#333" stroke-width="1.4" stroke-dasharray="2.4,0.9"/>
<line x1="380.4" y1="647.8" x2="453.1" y2="647.8" stroke="#111" stroke-width="1.4" stroke-dasharray="2.5,1.2"/>
<text x="385" y="662.5" font-family="'Liberation Serif', serif" font-size="10.5" font-weight="bold" fill="#1a1a1a" text-anchor="start" stroke="#1a1a1a" stroke-width="0.3" textLength="56.5" lengthAdjust="spacingAndGlyphs">EBV+ Trx80</text>
<text transform="translate(79.8,170.2) rotate(-90)" font-family="'Liberation Serif', serif" font-size="10.94" font-weight="bold" fill="#1a1a1a" stroke="#1a1a1a" stroke-width="0.25" textLength="30.9" lengthAdjust="spacingAndGlyphs">Jurkat</text>
<text transform="translate(104.8,167.8) rotate(-90)" font-family="'Liberation Serif', serif" font-size="10.61" font-weight="bold" fill="#1a1a1a" stroke="#1a1a1a" stroke-width="0.25" textLength="21.5" lengthAdjust="spacingAndGlyphs">LCL</text>
<text transform="translate(124.5,178.2) rotate(-90)" font-family="'Liberation Serif', serif" font-size="13.84" font-weight="bold" fill="#1a1a1a" stroke="#1a1a1a" stroke-width="0.25" font-style="italic" textLength="35.5" lengthAdjust="spacingAndGlyphs">ex vivo</text>
<text transform="translate(146.2,172.2) rotate(-90)" font-family="'Liberation Serif', serif" font-size="11.83" font-weight="bold" fill="#1a1a1a" stroke="#1a1a1a" stroke-width="0.25" textLength="21.5" lengthAdjust="spacingAndGlyphs">EBV</text>
<text transform="translate(190,167.8) rotate(-90)" font-family="'Liberation Serif', serif" font-size="11.53" font-weight="bold" fill="#1a1a1a" stroke="#1a1a1a" stroke-width="0.25" textLength="18.1" lengthAdjust="spacingAndGlyphs">MK</text>
<text transform="translate(211,167.2) rotate(-90)" font-family="'Liberation Serif', serif" font-size="11.53" font-weight="bold" fill="#1a1a1a" stroke="#1a1a1a" stroke-width="0.25" textLength="17.1" lengthAdjust="spacingAndGlyphs">BW</text>
<text transform="translate(235.6,167.6) rotate(-90)" font-family="'Liberation Serif', serif" font-size="10.61" font-weight="bold" fill="#1a1a1a" stroke="#1a1a1a" stroke-width="0.25" textLength="41.5" lengthAdjust="spacingAndGlyphs">MK+BW</text>
<text transform="translate(260.5,168.2) rotate(-90)" font-family="'Liberation Serif', serif" font-size="10.0" font-weight="bold" fill="#1a1a1a" stroke="#1a1a1a" stroke-width="0.25" textLength="69.0" lengthAdjust="spacingAndGlyphs">MK+BW+LTB</text>
<text transform="translate(306,167.6) rotate(-90)" font-family="'Liberation Serif', serif" font-size="10.94" font-weight="bold" fill="#1a1a1a" stroke="#1a1a1a" stroke-width="0.25" textLength="30.9" lengthAdjust="spacingAndGlyphs">Jurkat</text>
<text transform="translate(331.8,165.2) rotate(-90)" font-family="'Liberation Serif', serif" font-size="11.22" font-weight="bold" fill="#1a1a1a" stroke="#1a1a1a" stroke-width="0.25" textLength="21.9" lengthAdjust="spacingAndGlyphs">LCL</text>
<text transform="translate(353.6,175.8) rotate(-90)" font-family="'Liberation Serif', serif" font-size="9.64" font-weight="bold" fill="#1a1a1a" stroke="#1a1a1a" stroke-width="0.25" font-style="italic" textLength="36.5" lengthAdjust="spacingAndGlyphs">ex vivo</text>
<text transform="translate(375.5,169.8) rotate(-90)" font-family="'Liberation Serif', serif" font-size="10.76" font-weight="bold" fill="#1a1a1a" stroke="#1a1a1a" stroke-width="0.25" textLength="21.1" lengthAdjust="spacingAndGlyphs">EBV</text>
<text transform="translate(423.4,165.3) rotate(-90)" font-family="'Liberation Serif', serif" font-size="11.37" font-weight="bold" fill="#1a1a1a" stroke="#1a1a1a" stroke-width="0.25" textLength="18.5" lengthAdjust="spacingAndGlyphs">MK</text>
<text transform="translate(448.2,164.6) rotate(-90)" font-family="'Liberation Serif', serif" font-size="10.0" font-weight="bold" fill="#1a1a1a" stroke="#1a1a1a" stroke-width="0.25" textLength="16.2" lengthAdjust="spacingAndGlyphs">BW</text>
<text transform="translate(478.6,165.3) rotate(-90)" font-family="'Liberation Serif', serif" font-size="11.07" font-weight="bold" fill="#1a1a1a" stroke="#1a1a1a" stroke-width="0.25" textLength="42.8" lengthAdjust="spacingAndGlyphs">MK+BW</text>
<text transform="translate(502.7,165.8) rotate(-90)" font-family="'Liberation Serif', serif" font-size="9.85" font-weight="bold" fill="#1a1a1a" stroke="#1a1a1a" stroke-width="0.25" textLength="69.7" lengthAdjust="spacingAndGlyphs">MK+BW+LTB</text>
<text transform="translate(114.9,400.0) rotate(-90)" font-family="'Liberation Serif', serif" font-size="7.71" font-weight="bold" fill="#1a1a1a" stroke="#1a1a1a" stroke-width="0.25" textLength="17.8" lengthAdjust="spacingAndGlyphs">EBV</text>
<text transform="translate(145.4,382.2) rotate(-90)" font-family="'Liberation Serif', serif" font-size="8.32" font-weight="bold" fill="#1a1a1a" stroke="#1a1a1a" stroke-width="0.25" textLength="14.5" lengthAdjust="spacingAndGlyphs">MK</text>
<text transform="translate(160,380.6) rotate(-90)" font-family="'Liberation Serif', serif" font-size="8.63" font-weight="bold" fill="#1a1a1a" stroke="#1a1a1a" stroke-width="0.25" textLength="14.2" lengthAdjust="spacingAndGlyphs">BW</text>
<text transform="translate(172.2,381.2) rotate(-90)" font-family="'Liberation Serif', serif" font-size="7.86" font-weight="bold" fill="#1a1a1a" stroke="#1a1a1a" stroke-width="0.25" textLength="34.4" lengthAdjust="spacingAndGlyphs">MK+BW</text>
<text transform="translate(187.3,391.2) rotate(-90)" font-family="'Liberation Serif', serif" font-size="8.17" font-weight="bold" fill="#1a1a1a" stroke="#1a1a1a" stroke-width="0.25" textLength="58.2" lengthAdjust="spacingAndGlyphs">MK+BW+LTB</text>
<text transform="translate(352.7,395.6) rotate(-90)" font-family="'Liberation Serif', serif" font-size="8.47" font-weight="bold" fill="#1a1a1a" stroke="#1a1a1a" stroke-width="0.25" textLength="18.0" lengthAdjust="spacingAndGlyphs">EBV</text>
<text transform="translate(382.3,378.8) rotate(-90)" font-family="'Liberation Serif', serif" font-size="8.47" font-weight="bold" fill="#1a1a1a" stroke="#1a1a1a" stroke-width="0.25" textLength="14.9" lengthAdjust="spacingAndGlyphs">MK</text>
<text transform="translate(396.2,376.6) rotate(-90)" font-family="'Liberation Serif', serif" font-size="8.32" font-weight="bold" fill="#1a1a1a" stroke="#1a1a1a" stroke-width="0.25" textLength="14.2" lengthAdjust="spacingAndGlyphs">BW</text>
<text transform="translate(410.4,377.7) rotate(-90)" font-family="'Liberation Serif', serif" font-size="7.4" font-weight="bold" fill="#1a1a1a" stroke="#1a1a1a" stroke-width="0.25" textLength="34.3" lengthAdjust="spacingAndGlyphs">MK+BW</text>
<text transform="translate(425.9,386.7) rotate(-90)" font-family="'Liberation Serif', serif" font-size="7.71" font-weight="bold" fill="#1a1a1a" stroke="#1a1a1a" stroke-width="0.25" textLength="57.5" lengthAdjust="spacingAndGlyphs">MK+BW+LTB</text>
<text transform="translate(130.6,613.8) rotate(-90)" font-family="'Liberation Serif', serif" font-size="9.69" font-weight="bold" fill="#1a1a1a" stroke="#1a1a1a" stroke-width="0.25" textLength="20.7" lengthAdjust="spacingAndGlyphs">EBV</text>
<text transform="translate(165,635.4) rotate(-90)" font-family="'Liberation Serif', serif" font-size="9.54" font-weight="bold" fill="#1a1a1a" stroke="#1a1a1a" stroke-width="0.25" textLength="17.8" lengthAdjust="spacingAndGlyphs">MK</text>
<text transform="translate(183,633.0) rotate(-90)" font-family="'Liberation Serif', serif" font-size="9.54" font-weight="bold" fill="#1a1a1a" stroke="#1a1a1a" stroke-width="0.25" textLength="15.8" lengthAdjust="spacingAndGlyphs">BW</text>
<text transform="translate(199.9,633.8) rotate(-90)" font-family="'Liberation Serif', serif" font-size="10.15" font-weight="bold" fill="#1a1a1a" stroke="#1a1a1a" stroke-width="0.25" textLength="40.2" lengthAdjust="spacingAndGlyphs">MK+BW</text>
<text transform="translate(219,643.7) rotate(-90)" font-family="'Liberation Serif', serif" font-size="9.39" font-weight="bold" fill="#1a1a1a" stroke="#1a1a1a" stroke-width="0.25" textLength="67.3" lengthAdjust="spacingAndGlyphs">MK+BW+LTB</text>
<text transform="translate(366.8,614.4) rotate(-90)" font-family="'Liberation Serif', serif" font-size="9.24" font-weight="bold" fill="#1a1a1a" stroke="#1a1a1a" stroke-width="0.25" textLength="20.4" lengthAdjust="spacingAndGlyphs">EBV</text>
<text transform="translate(401.7,631.95) rotate(-90)" font-family="'Liberation Serif', serif" font-size="9.54" font-weight="bold" fill="#1a1a1a" stroke="#1a1a1a" stroke-width="0.25" textLength="16.85" lengthAdjust="spacingAndGlyphs">MK</text>
<text transform="translate(418.5,629.8) rotate(-90)" font-family="'Liberation Serif', serif" font-size="9.39" font-weight="bold" fill="#1a1a1a" stroke="#1a1a1a" stroke-width="0.25" textLength="16.6" lengthAdjust="spacingAndGlyphs">BW</text>
<text transform="translate(435.8,630.2) rotate(-90)" font-family="'Liberation Serif', serif" font-size="10.15" font-weight="bold" fill="#1a1a1a" stroke="#1a1a1a" stroke-width="0.25" textLength="39.0" lengthAdjust="spacingAndGlyphs">MK+BW</text>
<text transform="translate(453,643.3) rotate(-90)" font-family="'Liberation Serif', serif" font-size="9.39" font-weight="bold" fill="#1a1a1a" stroke="#1a1a1a" stroke-width="0.25" textLength="68.4" lengthAdjust="spacingAndGlyphs">MK+BW+LTB</text>
<text transform="translate(262.8,99.5) rotate(-90)" font-family="'Liberation Serif', serif" font-size="7.2" font-weight="bold" fill="#1a1a1a" stroke="#1a1a1a" stroke-width="0.2">4</text>
<text transform="translate(505.2,96.4) rotate(-90)" font-family="'Liberation Serif', serif" font-size="7.2" font-weight="bold" fill="#1a1a1a" stroke="#1a1a1a" stroke-width="0.2">4</text>
<text transform="translate(189.5,333.3) rotate(-90)" font-family="'Liberation Serif', serif" font-size="6.0" font-weight="bold" fill="#1a1a1a" stroke="#1a1a1a" stroke-width="0.2">4</text>
<text transform="translate(428.1,329.5) rotate(-90)" font-family="'Liberation Serif', serif" font-size="6.0" font-weight="bold" fill="#1a1a1a" stroke="#1a1a1a" stroke-width="0.2">4</text>
<text transform="translate(221.8,576.7) rotate(-90)" font-family="'Liberation Serif', serif" font-size="6.8" font-weight="bold" fill="#1a1a1a" stroke="#1a1a1a" stroke-width="0.2">4</text>
<text transform="translate(455.2,575.2) rotate(-90)" font-family="'Liberation Serif', serif" font-size="6.8" font-weight="bold" fill="#1a1a1a" stroke="#1a1a1a" stroke-width="0.2">4</text>
</svg>
</body></html>
